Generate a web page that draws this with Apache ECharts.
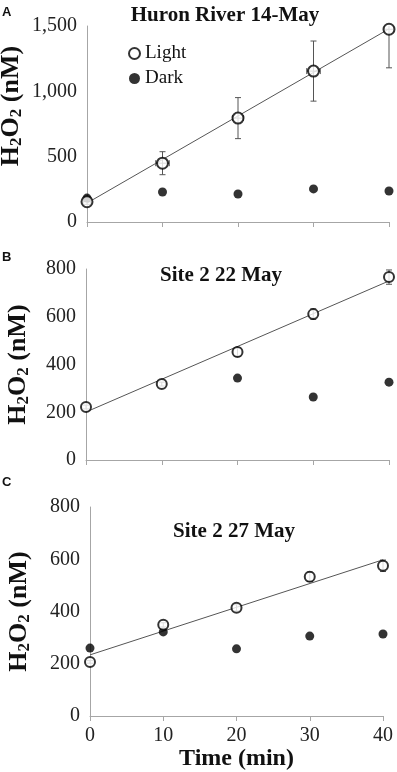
<!DOCTYPE html>
<html>
<head>
<meta charset="utf-8">
<script src="https://cdn.jsdelivr.net/npm/echarts@6/dist/echarts.min.js"></script>
<style>
  html, body { margin: 0; padding: 0; background: #fff; }
  #chart { width: 397px; height: 772px; }
</style>
</head>
<body>
<div id="chart"></div>
<script>
// time points (min)
const timeMin = [0, 10, 20, 30, 40];

// panel A - Huron River 14-May
const lightA = [155, 450, 795, 1155, 1475];
const lightAErr = [20, 88, 157, 230, 295];
const lightATimeErr = [0.5, 0.9, 0.7, 0.9, 0.6];
const darkA = [183, 230, 214, 253, 237];
const fitA = [145, 1478];

// panel B - Site 2 22 May
const lightB = [222, 318, 452, 611, 766];
const lightBErr = [8, 8, 18, 22, 30];
const darkB = [null, null, 343, 264, 326];
const fitB = [201, 750];

// panel C - Site 2 27 May
const lightC = [207, 349, 414, 533, 575];
const lightCErr = [5, 8, 12, 18, 22];
const darkC = [260, 322, 257, 306, 314];
const fitC = [234, 598];

const titles = ['Huron River 14-May', 'Site 2 22 May', 'Site 2 27 May'];
const panelLetters = ['A', 'B', 'C'];

const serif = '"Liberation Serif", "Times New Roman", serif';
const axisGray = '#a6a6a6';

const chart = echarts.init(document.getElementById('chart'));

function pairs(ys) {
    return timeMin.map((t, i) => [t, ys[i]]).filter(p => p[1] != null);
}

function errData(ys, yerr, xerr) {
    return timeMin.map((t, i) => [t, ys[i], yerr[i], xerr ? xerr[i] : 0]);
}

function renderErr(params, api) {
    const x = api.value(0), y = api.value(1), ey = api.value(2), ex = api.value(3);
    const cs = params.coordSys;
    const top = api.coord([x, y + ey]);
    const bot = api.coord([x, y - ey]);
    const topY = Math.max(top[1], cs.y);
    const st = { stroke: '#555', lineWidth: 1 };
    const cap = 3;
    const kids = [
        { type: 'line', shape: { x1: top[0], y1: topY, x2: bot[0], y2: bot[1] }, style: st },
        { type: 'line', shape: { x1: bot[0] - cap, y1: bot[1], x2: bot[0] + cap, y2: bot[1] }, style: st }
    ];
    if (top[1] >= cs.y) {
        kids.push({ type: 'line', shape: { x1: top[0] - cap, y1: top[1], x2: top[0] + cap, y2: top[1] }, style: st });
    }
    if (ex > 0) {
        const l = api.coord([x - ex, y]);
        const r = api.coord([x + ex, y]);
        kids.push({ type: 'line', shape: { x1: l[0], y1: l[1], x2: r[0], y2: r[1] }, style: st });
        kids.push({ type: 'line', shape: { x1: l[0], y1: l[1] - cap, x2: l[0], y2: l[1] + cap }, style: st });
        kids.push({ type: 'line', shape: { x1: r[0], y1: r[1] - cap, x2: r[0], y2: r[1] + cap }, style: st });
    }
    return { type: 'group', children: kids };
}

const grids = [
    { left: 87, right: 8, top: 26, height: 196, outerBoundsMode: 'none', containLabel: false },
    { left: 86, right: 8, top: 269, height: 191, outerBoundsMode: 'none', containLabel: false },
    { left: 90, right: 14, top: 507, height: 209, outerBoundsMode: 'none', containLabel: false }
];
const yMax = [1500, 800, 800];
const yStep = [500, 200, 200];
const yNameGap = [62, 54, 57];
const yName = '{a|H}{s|2}{a|O}{s|2}{a| (nM)}';

const xAxes = grids.map((g, i) => ({
    type: 'value', gridIndex: i, min: 0, max: 40, interval: 10,
    axisLine: { lineStyle: { color: axisGray } },
    axisTick: { show: true, length: 5, lineStyle: { color: axisGray } },
    splitLine: { show: false },
    axisLabel: { show: i === 2, fontFamily: serif, fontSize: 20, color: '#222', margin: 10 },
    name: i === 2 ? 'Time (min)' : '',
    nameLocation: 'middle', nameGap: 30,
    nameTextStyle: { fontFamily: serif, fontSize: 24, fontWeight: 'bold', color: '#111' }
}));

const yAxes = grids.map((g, i) => ({
    type: 'value', gridIndex: i, min: 0, max: yMax[i], interval: yStep[i],
    axisLine: { show: true, lineStyle: { color: axisGray } },
    axisTick: { show: false },
    splitLine: { show: false },
    axisLabel: {
        fontFamily: serif, fontSize: 20, color: '#222', margin: 10,
        formatter: v => v.toLocaleString('en-US')
    },
    name: yName, nameLocation: 'middle', nameRotate: 90, nameGap: yNameGap[i],
    nameMoveOverlap: false,
    nameTextStyle: {
        padding: i === 0 ? [0, 0, 0, 36] : 0,
        rich: {
            a: { fontFamily: serif, fontSize: 26, fontWeight: 'bold', color: '#111' },
            s: { fontFamily: serif, fontSize: 17, fontWeight: 'bold', color: '#111', padding: [11, 0, 0, 0] }
        }
    }
}));

const lights = [lightA, lightB, lightC];
const lightErrs = [lightAErr, lightBErr, lightCErr];
const timeErrs = [lightATimeErr, null, null];
const darks = [darkA, darkB, darkC];
const fits = [fitA, fitB, fitC];
const lightSize = [11, 10, 10];

const series = [];
for (let i = 0; i < 3; i++) {
    series.push({
        type: 'line', xAxisIndex: i, yAxisIndex: i, silent: true,
        data: [[0, fits[i][0]], [40, fits[i][1]]],
        symbol: 'none', lineStyle: { color: '#555', width: 1 }, z: 2
    });
    series.push({
        type: 'custom', xAxisIndex: i, yAxisIndex: i, silent: true,
        renderItem: renderErr, data: errData(lights[i], lightErrs[i], timeErrs[i]), z: 3
    });
    series.push({
        name: 'Dark', type: 'scatter', xAxisIndex: i, yAxisIndex: i,
        data: pairs(darks[i]), symbol: 'circle', symbolSize: 9,
        itemStyle: { color: '#000' }, z: 4
    });
    series.push({
        name: 'Light', type: 'scatter', xAxisIndex: i, yAxisIndex: i,
        data: pairs(lights[i]), symbol: 'circle', symbolSize: lightSize[i],
        itemStyle: { color: '#fff', borderColor: '#000', borderWidth: 2 }, z: 5
    });
}

const titleTops = [0, 260, 516];
const titleCenters = [220, 216, 229];
const letterTops = [6, 251, 476];

chart.setOption({
    animation: false,
    title: titles.map((t, i) => ({
        text: t, left: titleCenters[i], top: titleTops[i], textAlign: 'center',
        textStyle: { fontFamily: serif, fontSize: 21, fontWeight: 'bold', color: '#111' }
    })).concat(panelLetters.map((t, i) => ({
        text: t, left: 2, top: letterTops[i], padding: 0,
        textStyle: { fontFamily: 'Liberation Sans, Arial, sans-serif', fontSize: 13, fontWeight: 'bold', color: '#111' }
    }))),
    legend: {
        data: ['Light', 'Dark'], orient: 'vertical', left: 123, top: 39, itemGap: 6,
        itemWidth: 11, itemHeight: 11,
        textStyle: { fontFamily: serif, fontSize: 19, color: '#111' }
    },
    grid: grids,
    xAxis: xAxes,
    yAxis: yAxes,
    series: series
});
</script>
</body>
</html>
